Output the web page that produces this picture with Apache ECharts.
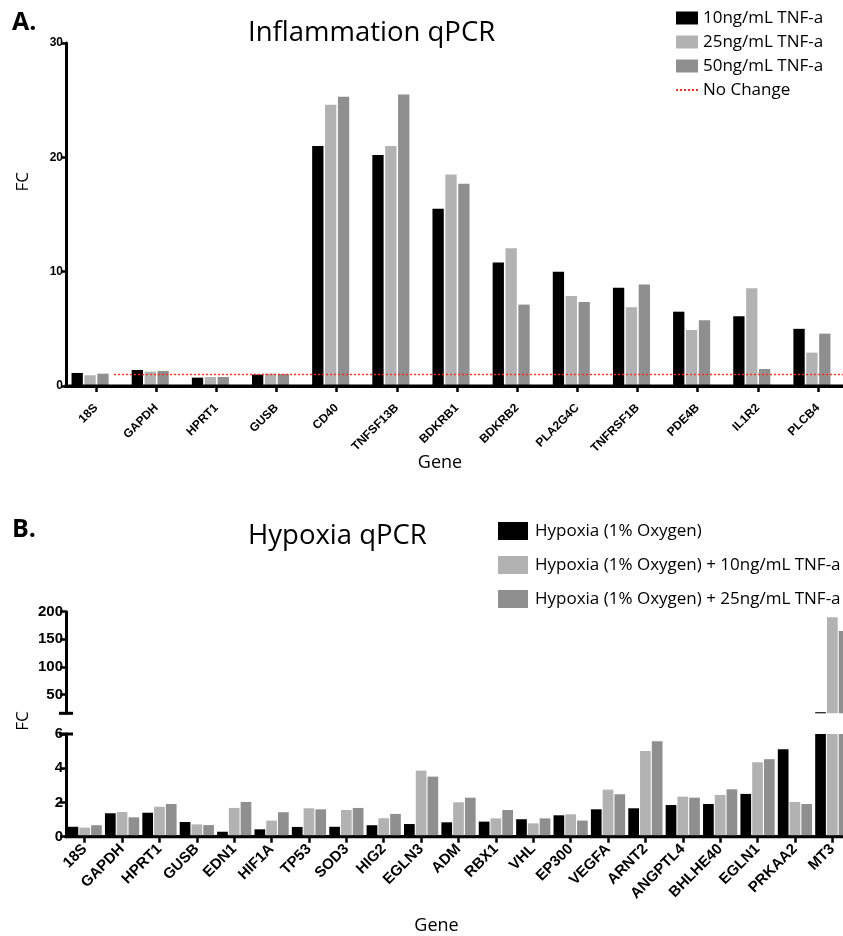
<!DOCTYPE html>
<html>
<head>
<meta charset="utf-8">
<script src="https://cdn.jsdelivr.net/npm/echarts@6/dist/echarts.min.js"></script>
<style>
  html, body { margin: 0; padding: 0; background: #ffffff; }
  #chart { width: 843px; height: 936px; }
</style>
</head>
<body>
<div id="chart"></div>
<script>
// ---- Panel A: inflammation qPCR (fold change) ----
const inflGenes = ['18S', 'GAPDH', 'HPRT1', 'GUSB', 'CD40', 'TNFSF13B', 'BDKRB1', 'BDKRB2', 'PLA2G4C', 'TNFRSF1B', 'PDE4B', 'IL1R2', 'PLCB4'];
const infl10 = [1.14, 1.40, 0.73, 1.00, 21.0, 20.2, 15.5, 10.8, 10.0, 8.6, 6.5, 6.1, 5.0];
const infl25 = [0.94, 1.26, 0.79, 1.08, 24.6, 21.0, 18.5, 12.05, 7.87, 6.89, 4.9, 8.55, 2.92];
const infl50 = [1.08, 1.31, 0.79, 1.05, 25.3, 25.5, 17.7, 7.12, 7.35, 8.87, 5.75, 1.49, 4.58];
const inflNames = ['10ng/mL TNF-a', '25ng/mL TNF-a', '50ng/mL TNF-a'];
const inflTicks = [0, 10, 20, 30];
const noChangeName = 'No Change';
const noChangeValue = 1;
const noChangeFrom = 0.3;   // category position where the reference line starts

// ---- Panel B: hypoxia qPCR (fold change, broken axis) ----
const hypGenes = ['18S', 'GAPDH', 'HPRT1', 'GUSB', 'EDN1', 'HIF1A', 'TP53', 'SOD3', 'HIG2', 'EGLN3', 'ADM', 'RBX1', 'VHL', 'EP300', 'VEGFA', 'ARNT2', 'ANGPTL4', 'BHLHE40', 'EGLN1', 'PRKAA2', 'MT3'];
const hyp0 = [0.58, 1.37, 1.40, 0.86, 0.29, 0.43, 0.57, 0.58, 0.67, 0.74, 0.84, 0.88, 1.02, 1.25, 1.60, 1.66, 1.85, 1.91, 2.50, 5.11, 18];
const hyp10 = [0.53, 1.44, 1.75, 0.72, 1.68, 0.94, 1.66, 1.56, 1.08, 3.86, 2.01, 1.07, 0.78, 1.31, 2.75, 5.01, 2.34, 2.44, 4.35, 2.03, 190];
const hyp25 = [0.67, 1.13, 1.91, 0.68, 2.03, 1.43, 1.60, 1.68, 1.33, 3.51, 2.28, 1.56, 1.07, 0.94, 2.48, 5.58, 2.28, 2.77, 4.53, 1.91, 165];
const hypNames = ['Hypoxia (1% Oxygen)', 'Hypoxia (1% Oxygen) + 10ng/mL TNF-a', 'Hypoxia (1% Oxygen) + 25ng/mL TNF-a'];
const hypLowTicks = [0, 2, 4, 6];
const hypHighTicks = [50, 100, 150, 200];
const hypBreakMin = 16;     // lower end of the upper axis segment

// ---- styling ----
const barColors = ['#000000', '#b2b2b2', '#8f8f8f'];
const labelFont = 'Liberation Sans';
const textFont = 'Open Sans';

// layout
const canvasWidth = 843;
const aLeft = 66, aTop = 43, aHeight = 343, aWidth = 782, aBarShift = 6;
const bLeft = 66, bWidth = 785;
const bHiTop = 611.7, bHiHeight = 101.6;
const bLoTop = 734, bLoHeight = 102.7;
const capHalf = 7;

const chart = echarts.init(document.getElementById('chart'), null, { renderer: 'canvas' });

const blackLine = () => ({ color: '#000', width: 3 });
const blackTick = () => ({ color: '#000', width: 2.5 });

function valueAxisStyle(fontSize, tickLen) {
  return {
    axisLine: { show: true, onZero: false, lineStyle: blackLine() },
    axisTick: { show: true, length: tickLen, lineStyle: blackTick() },
    axisLabel: { color: '#000', fontFamily: labelFont, fontWeight: 'bold', fontSize: fontSize, margin: 3 },
    splitLine: { show: false }
  };
}

function categoryAxisStyle(fontSize, margin) {
  return {
    axisLine: { show: true, onZero: false, lineStyle: blackLine() },
    axisTick: { show: true, alignWithLabel: true, interval: 0, length: 6, lineStyle: blackTick() },
    axisLabel: { interval: 0, rotate: 45, margin: margin, color: '#000', fontFamily: labelFont, fontWeight: 'bold', fontSize: fontSize },
    splitLine: { show: false }
  };
}

const gridBase = { outerBoundsMode: 'none', containLabel: false };

const option = {
  animation: false,
  backgroundColor: '#ffffff',
  grid: [
    Object.assign({ left: aLeft - aBarShift, top: aTop, width: aWidth, height: aHeight }, gridBase),  // A: bars
    Object.assign({ left: aLeft, top: aTop, width: aWidth, height: aHeight }, gridBase),              // A: axes
    Object.assign({ left: bLeft, top: bHiTop, width: bWidth, height: bHiHeight }, gridBase),          // B: upper segment
    Object.assign({ left: bLeft, top: bLoTop, width: bWidth, height: bLoHeight }, gridBase)           // B: lower segment
  ],
  xAxis: [
    { gridIndex: 0, type: 'category', data: inflGenes, show: false },
    Object.assign({ gridIndex: 1, type: 'category', position: 'bottom', data: inflGenes }, categoryAxisStyle(12, 20)),
    { gridIndex: 1, type: 'value', position: 'top', min: -0.5, max: inflGenes.length - 0.5, show: false },
    { gridIndex: 2, type: 'category', data: hypGenes, show: false },
    Object.assign({ gridIndex: 3, type: 'category', position: 'bottom', data: hypGenes }, categoryAxisStyle(15, 10))
  ],
  yAxis: [
    { gridIndex: 0, type: 'value', min: inflTicks[0], max: inflTicks[inflTicks.length - 1], show: false },
    Object.assign({ gridIndex: 1, type: 'value', position: 'left', min: inflTicks[0], max: inflTicks[inflTicks.length - 1], interval: inflTicks[1] - inflTicks[0] }, valueAxisStyle(12, 5)),
    (function () {
      const s = valueAxisStyle(15, 6);
      s.axisTick.customValues = hypHighTicks;
      s.axisLabel.customValues = hypHighTicks;
      return Object.assign({ gridIndex: 2, type: 'value', position: 'left', min: hypBreakMin, max: hypHighTicks[hypHighTicks.length - 1] }, s);
    })(),
    Object.assign({ gridIndex: 3, type: 'value', position: 'left', min: hypLowTicks[0], max: hypLowTicks[hypLowTicks.length - 1], interval: hypLowTicks[1] - hypLowTicks[0] }, valueAxisStyle(15, 6))
  ],
  legend: [
    {
      orient: 'vertical', left: 675, top: 9, padding: 0,
      itemWidth: 22, itemHeight: 13, itemGap: 6,
      selectedMode: false,
      textStyle: { fontFamily: textFont, fontSize: 17, color: '#000', lineHeight: 18 },
      data: inflNames.map(n => ({ name: n, icon: 'rect' })).concat([{ name: noChangeName, itemStyle: { opacity: 0 } }])
    },
    {
      orient: 'vertical', left: 498, top: 522, padding: 0,
      itemWidth: 30, itemHeight: 18, itemGap: 16,
      selectedMode: false,
      textStyle: { fontFamily: textFont, fontSize: 17, color: '#000', lineHeight: 18, padding: [0, 0, 0, 2] },
      data: hypNames.map(n => ({ name: n, icon: 'rect' }))
    }
  ],
  series: []
};

// Panel A bars
[infl10, infl25, infl50].forEach((vals, i) => {
  option.series.push({
    name: inflNames[i], type: 'bar', xAxisIndex: 0, yAxisIndex: 0,
    data: vals, barWidth: 11.3, barGap: '14%',
    itemStyle: { color: barColors[i] }
  });
});
// Panel A "no change" reference line
option.series.push({
  name: noChangeName, type: 'line', xAxisIndex: 2, yAxisIndex: 1,
  data: [[noChangeFrom, noChangeValue], [inflGenes.length - 0.5, noChangeValue]],
  symbol: 'none', showSymbol: false, silent: true, z: 5,
  lineStyle: { color: '#ff2a1a', width: 1.6, type: [2, 2] },
  itemStyle: { color: '#ff2a1a' }
});
// Panel B bars, drawn in both axis segments
[hyp0, hyp10, hyp25].forEach((vals, i) => {
  [2, 3].forEach(g => {
    option.series.push({
      name: hypNames[i], type: 'bar', xAxisIndex: g + 1, yAxisIndex: g,
      data: vals, barWidth: 10.7, barGap: '10%', clip: true,
      itemStyle: { color: barColors[i] }
    });
  });
});

// Titles, panel letters and axis names
const t = (text, x, y, size, extra) => ({
  type: 'text', silent: true,
  style: Object.assign({
    text: text, x: x, y: y, fill: '#000',
    fontFamily: textFont, fontSize: size,
    verticalAlign: 'middle', align: 'left'
  }, extra || {})
});
const vt = (text, x, y, size) => ({
  type: 'text', silent: true, x: x, y: y, rotation: Math.PI / 2,
  style: { text: text, x: 0, y: 0, fill: '#000', fontFamily: textFont, fontSize: size, align: 'center', verticalAlign: 'middle' }
});
const hLine = (x1, x2, y) => ({
  type: 'line', silent: true, z: 10,
  shape: { x1: x1, y1: y, x2: x2, y2: y },
  style: { stroke: '#000', lineWidth: 3 }
});
// baseline band drawn on its own layer, above the plot layer
const hBand = (x1, x2, y) => ({
  type: 'rect', silent: true, zlevel: 1, z: 10,
  shape: { x: x1, y: y - 1.5, width: x2 - x1, height: 3 },
  style: { fill: '#000' }
});

// x baselines along the bottom edge of each plot, and caps at the axis break
const aBaseY = aTop + aHeight;
const bBaseY = bLoTop + bLoHeight;
const breakHiY = bHiTop + bHiHeight;   // hypBreakMin sits on the bottom edge of the upper segment
const breakLoY = bLoTop;               // top tick of the lower segment

option.graphic = [
  t('A.', 12, 23, 25, { fontWeight: 'bold' }),
  t('B.', 12, 530, 25, { fontWeight: 'bold' }),
  t('Inflammation qPCR', 248, 33.5, 27.5),
  t('Hypoxia qPCR', 248, 536, 27.5),
  t('Gene', 440, 463, 18, { align: 'center' }),
  t('Gene', 436.5, 926, 18, { align: 'center' }),
  vt('FC', 23.3, 181.7, 17),
  vt('FC', 23.3, 721, 17),
  hBand(aLeft - 1.5, canvasWidth, aBaseY),
  hBand(bLeft - 1.5, canvasWidth, bBaseY),
  hLine(bLeft - capHalf, bLeft + capHalf, breakHiY),
  hLine(bLeft - capHalf, bLeft + capHalf, breakLoY)
];

chart.setOption(option);
</script>
</body>
</html>
